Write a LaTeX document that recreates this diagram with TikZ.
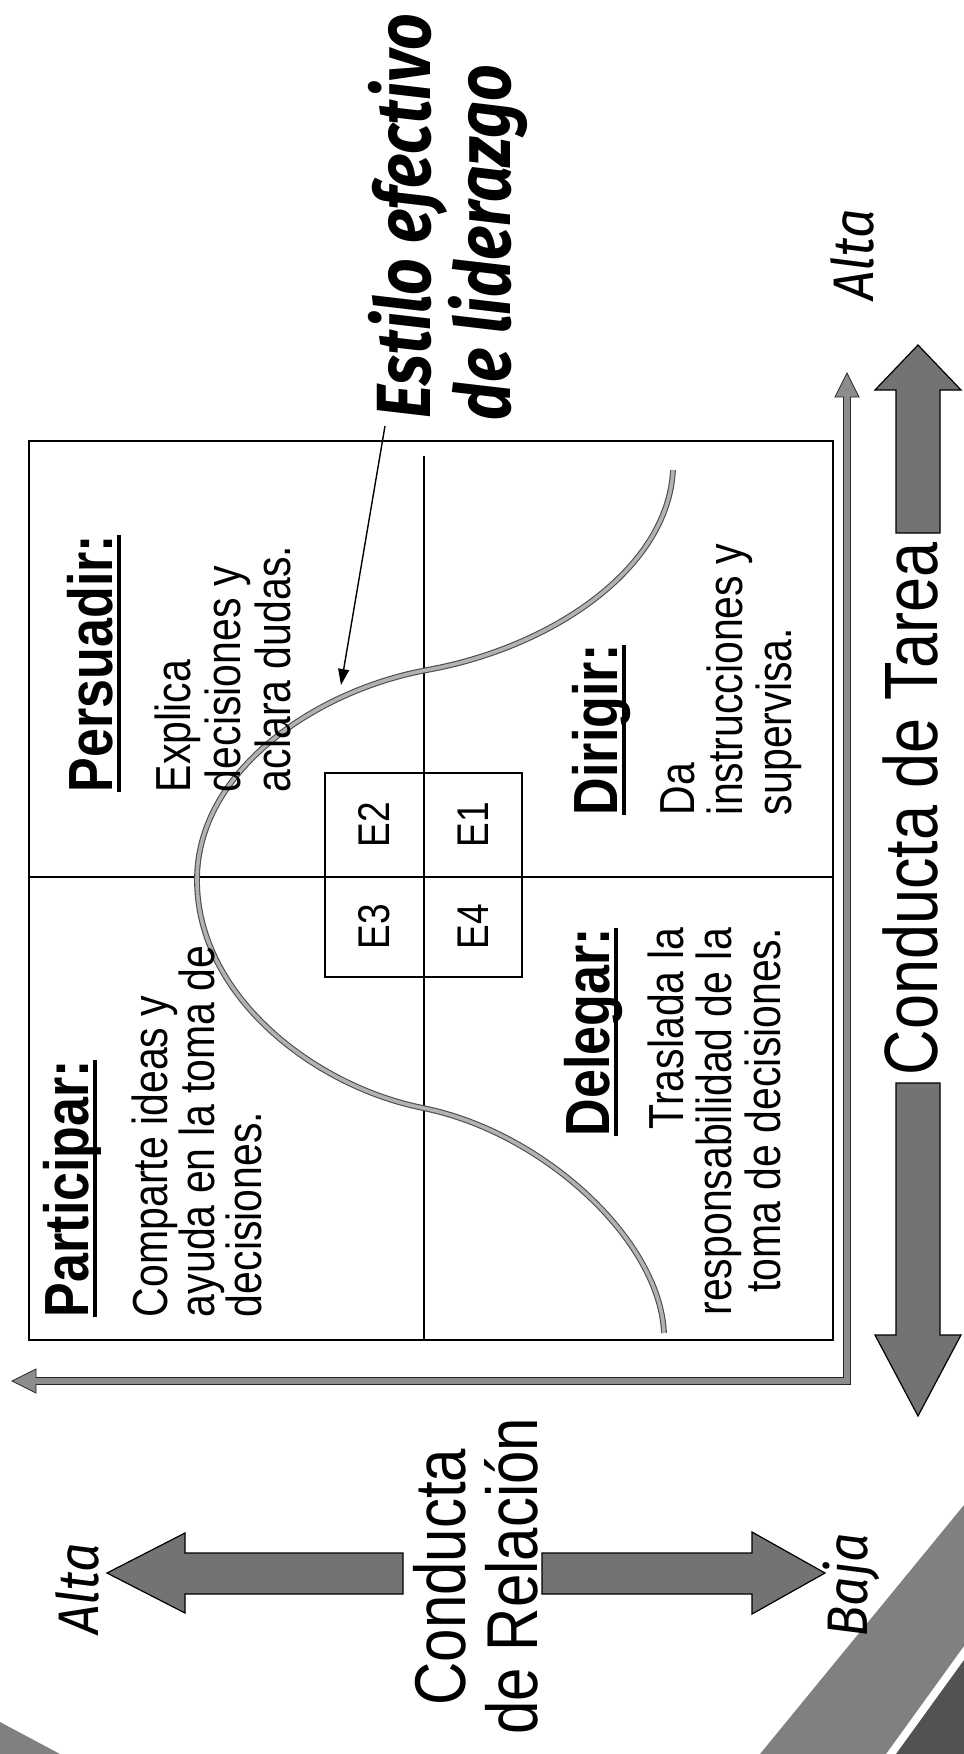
\documentclass[tikz,border=0pt]{standalone}
\usepackage{graphicx}
\usepackage{fontspec}
\setmainfont{Liberation Sans}
\newfontfamily\firafam{Fira Sans}
\usetikzlibrary{arrows.meta}
\newcommand{\vst}[2][1.2]{\scalebox{1}[#1]{#2}}
\newcommand{\ultl}[1]{\setbox0=\hbox{#1}\rlap{\rule[-7.5pt]{\wd0}{3.4pt}}\box0}
\begin{document}
\begin{tikzpicture}[x=1pt,y=-1pt,
  txt/.style={rotate=90, inner sep=0pt, outer sep=0pt},
  body/.style={txt, font=\fontsize{41}{48}\selectfont},
  ttl/.style={txt, font=\fontsize{52}{60}\selectfont\bfseries},
  elab/.style={txt, font=\fontsize{37}{44}\selectfont},
  axistxt/.style={txt, font=\fontsize{60}{70}\selectfont},
  tareatxt/.style={txt, font=\fontsize{63}{72}\selectfont},
  hand/.style={txt, font=\firafam\fontsize{64}{76}\selectfont\bfseries\itshape},
  lvl/.style={txt, font=\firafam\fontsize{52}{60}\selectfont\itshape},
  boxline/.style={draw=black, line width=2.2pt},
  midline/.style={draw=black, line width=1.6pt},
  bigarrow/.style={fill=black!55, draw=black, line width=1.2pt, line join=miter},
  thinaxis/.style={fill=black!45, draw=black!85, line width=0.8pt},
  curve/.style={draw=black!70, double=black!30, line width=1.1pt, double distance=3.6pt},
  ptr/.style={draw=black, line width=1.4pt, -{Triangle[length=16pt,width=11pt]}},
  deco/.style={fill=black!50, draw=none},
  decodark/.style={fill=black!68, draw=none}
]
\useasboundingbox (0,0) rectangle (964,1754);
\fill[white] (0,0) rectangle (964,1754);

% decorative corner bands
\path[deco] (964,1505) -- (760,1754) -- (886,1754) -- (964,1646) -- cycle;
\path[decodark] (964,1660) -- (896,1754) -- (964,1754) -- cycle;
\path[deco] (0,1722) -- (60,1754) -- (0,1754) -- cycle;

% main box and dividers
\draw[boxline] (29,441) rectangle (833,1340);
\draw[midline] (424,456) -- (424,1340);
\draw[midline] (29,877) -- (833,877);
\draw[midline] (325,773) rectangle (522,977);

% bell curve
\draw[curve] (673,470) .. controls (668,570) and (550,648) .. (427,670)
  .. controls (317,690) and (197,770) .. (197,880)
  .. controls (197,995) and (313,1086) .. (423,1108)
  .. controls (543,1132) and (660,1240) .. (664,1333);

% thin axes (L shape with two heads)
\path[thinaxis] (850.5,1384.5) -- (850.5,397) -- (859,397) -- (847,373) -- (835,397)
  -- (843.5,397) -- (843.5,1377.5) -- (36,1377.5) -- (36,1369) -- (12,1381)
  -- (36,1393) -- (36,1384.5) -- cycle;

% Conducta de Tarea double arrow
\path[bigarrow] (896,533) -- (896,390) -- (875,390) -- (918,345) -- (961,390) -- (940,390) -- (940,533) -- cycle;
\path[bigarrow] (896,1083) -- (896,1335) -- (875,1335) -- (918,1416) -- (961,1335) -- (940,1335) -- (940,1083) -- cycle;

% Conducta de Relacion double arrow
\path[bigarrow] (403,1553) -- (185,1553) -- (185,1533) -- (107,1573) -- (185,1613) -- (185,1594) -- (403,1594) -- cycle;
\path[bigarrow] (542,1553) -- (752,1553) -- (752,1532) -- (825,1573) -- (752,1614) -- (752,1594) -- (542,1594) -- cycle;

% E labels
\node[elab] (e2) at (374,825) {\vst{E2}};
\node[elab] (e1) at (473,825) {\vst{E1}};
\node[elab] (e3) at (374,927) {\vst{E3}};
\node[elab] (e4) at (473,927) {\vst{E4}};

% Participar
\node[ttl, anchor=base west] (tpart) at (88,1317) {\vst{\ultl{Participar:}}};
\node[body, anchor=base west] (bpart1) at (167,1317) {\vst{Comparte ideas y}};
\node[body, anchor=base west] (bpart2) at (214,1317) {\vst{ayuda en la toma de}};
\node[body, anchor=base west] (bpart3) at (261,1317) {\vst{decisiones.}};

% Persuadir
\node[ttl, anchor=base west] (tpers) at (112,792) {\vst{\ultl{Persuadir:}}};
\node[body, anchor=base west] (bpers1) at (190,792) {\vst{Explica}};
\node[body, anchor=base west] (bpers2) at (240,792) {\vst{decisiones y}};
\node[body, anchor=base west] (bpers3) at (290,792) {\vst{aclara dudas.}};

% Dirigir
\node[ttl, anchor=base west] (tdir) at (617,815) {\vst{\ultl{Dirigir:}}};
\node[body, anchor=base west] (bdir1) at (694,815) {\vst{Da}};
\node[body, anchor=base west] (bdir2) at (742,815) {\vst{instrucciones y}};
\node[body, anchor=base west] (bdir3) at (791,815) {\vst{supervisa.}};

% Delegar
\node[ttl, anchor=base east] (tdel) at (609,928) {\vst{\ultl{Delegar:}}};
\node[body, anchor=base east] (bdel1) at (683,928) {\vst{Traslada la}};
\node[body, anchor=base east] (bdel2) at (731,928) {\vst{responsabilidad de la}};
\node[body, anchor=base east] (bdel3) at (780,928) {\vst{toma de decisiones.}};

% Estilo efectivo de liderazgo + pointer
\node[hand, anchor=base west] (est1) at (430,418) {\vst{Estilo efectivo}};
\node[hand, anchor=base west] (est2) at (510,420) {\vst{de liderazgo}};
\coordinate (ptrA) at (385,426);
\coordinate (ptrB) at (341,685);
\draw[ptr] (ptrA) -- (ptrB);

% axis titles
\node[tareatxt, anchor=base] (tarea) at (937,809) {\vst{Conducta de Tarea}};
\node[axistxt, anchor=base] (rel1) at (465,1577) {\vst{Conducta}};
\node[axistxt, anchor=base] (rel2) at (537,1576) {\vst{de Relación}};

% level labels
\node[lvl, anchor=base] (altaT) at (873,255) {\vst[1.1]{Alta}};
\node[lvl, anchor=base] (altaR) at (98,1589) {\vst[1.1]{Alta}};
\node[lvl, anchor=base] (bajaR) at (867,1585) {\vst[1.1]{Baja}};
\end{tikzpicture}
\end{document}
